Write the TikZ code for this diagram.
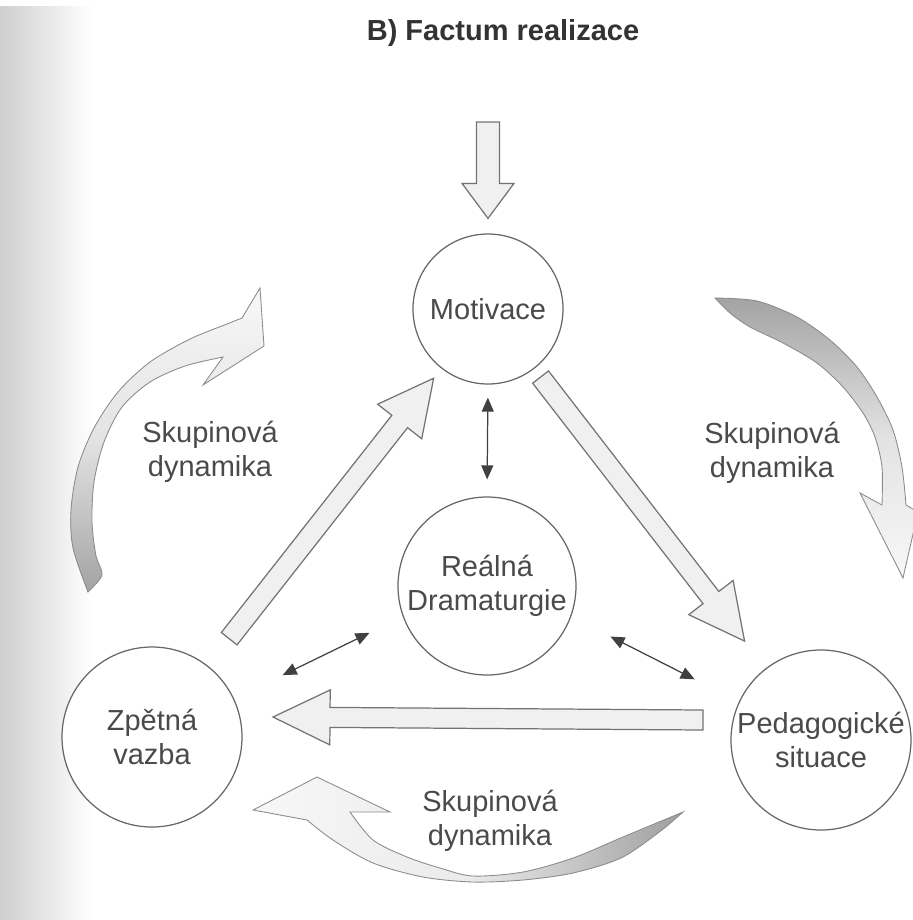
\documentclass[tikz,border=0pt]{standalone}
\usepackage{fontspec}
\setmainfont{Liberation Sans}
\usetikzlibrary{calc,arrows.meta}
\definecolor{inkgray}{HTML}{4A4A4A}

\newcommand{\bigarrow}[5]{%
  \draw[blockarr] let \p1=($(#2)-(#1)$), \n1={veclen(\x1,\y1)}, \n2={atan2(\y1,\x1)} in
    [shift={(#1)}, rotate=\n2] (0pt,-#3) -- (\n1-#5,-#3) -- (\n1-#5,-#4) -- (\n1,0pt)
    -- (\n1-#5,#4) -- (\n1-#5,#3) -- (0pt,#3) -- cycle;}

\begin{document}
\begin{tikzpicture}[x=0.2mm,y=-0.2mm,
    stage/.style={circle,draw=black!60,line width=0.7pt,fill=white,minimum size=#1,inner sep=0pt,
      align=center,text=inkgray,font=\fontsize{16.5}{19}\selectfont},
    lbl/.style={align=center,text=inkgray,font=\fontsize{16.5}{19}\selectfont},
    blockarr/.style={draw=black!55,fill=gray!12,line width=0.7pt,line join=miter},
    ribbon/.style={draw=black!45,line width=0.5pt},
    dblarr/.style={draw=black!75,line width=0.7pt,{Triangle[length=2.8mm,width=2.4mm]}-{Triangle[length=2.8mm,width=2.4mm]}}]
  \useasboundingbox (0,0) rectangle (913,920);
  \shade[left color=gray!38,right color=white] (0,6) rectangle (92,920);

  \node[lbl,font=\bfseries\fontsize{16.5}{19}\selectfont,text=black!80] (title) at (503,33) {B) Factum realizace};

  \node[stage=30mm] (motiv) at (488,309) {Motivace};
  \node[stage=35.6mm] (real) at (487,586) {Reálná\\Dramaturgie};
  \node[stage=36mm] (zpet) at (152,737) {Zpětná\\vazba};
  \node[stage=36mm] (pedag) at (821,740) {Pedagogické\\situace};

  \node[lbl] (dynL) at (210,452) {Skupinová\\dynamika};
  \node[lbl] (dynR) at (772,453) {Skupinová\\dynamika};
  \node[lbl] (dynB) at (490,821) {Skupinová\\dynamika};

  \shadedraw[ribbon,top color=gray!6,bottom color=gray!72,middle color=gray!22]
    plot[smooth] coordinates {(88,592) (73,548) (71,510) (78,467) (94,428) (118,392) (150,362) (190,339) (227,324) (242,318)}
    -- (260,288) -- (264,346) -- (203,385) -- (223,357)
    -- plot[smooth] coordinates {(223,357) (185,366) (150,382) (122,407) (104,442) (94,482) (92,522) (96,556) (102,575) (88,592)} -- cycle;
  \shadedraw[ribbon,top color=gray!72,bottom color=gray!6,middle color=gray!22]
    plot[smooth] coordinates {(715,298) (757,301) (797,317) (830,340) (857,367) (877,397) (893,430) (902,467) (906,505)}
    -- (918,512) -- (903,578) -- (860,493) -- (882,505)
    -- plot[smooth] coordinates {(882,505) (882,467) (875,437) (863,413) (843,387) (817,363) (783,343) (750,327) (730,313) (715,298)} -- cycle;
  \shadedraw[ribbon,left color=gray!6,right color=gray!75,middle color=gray!16]
    (253,810) -- (317,777) -- (390,812) -- (350,812)
    -- plot[smooth] coordinates {(350,812) (373,840) (407,857) (440,868) (473,876) (523,872) (573,858) (623,837) (683,812)}
    -- (667,826)
    -- plot[smooth] coordinates {(667,826) (623,857) (573,873) (523,880) (473,882) (423,877) (373,863) (333,840) (307,820)} -- cycle;

  \coordinate (top-a) at (488,122);
  \coordinate (top-b) at ([yshift=3mm]motiv.north);
  \coordinate (zm-a) at ($(zpet)!25mm!(motiv)$);
  \coordinate (zm-b) at ($(motiv)!17.6mm!(zpet)$);
  \coordinate (mp-a) at ($(motiv)!17.2mm!(pedag)$);
  \coordinate (mp-b) at ($(pedag)!25mm!(motiv)$);
  \coordinate (pz-a) at ([shift={(-118,-20)}]pedag.center);
  \coordinate (pz-b) at ([shift={(121,-20)}]zpet.center);

  \bigarrow{top-a}{top-b}{2.3mm}{5.2mm}{7mm}
  \bigarrow{zm-a}{zm-b}{2mm}{5.6mm}{11mm}
  \bigarrow{mp-a}{mp-b}{2mm}{5.6mm}{11mm}
  \bigarrow{pz-a}{pz-b}{2mm}{5.5mm}{11.4mm}

  \draw[dblarr,shorten <=2.6mm,shorten >=3.4mm] (motiv.south) -- (real.north);
  \draw[dblarr,shorten <=10.8mm,shorten >=7.4mm] (zpet.25) -- (real.200);
  \draw[dblarr,shorten <=8.8mm,shorten >=9.9mm] (real.340) -- (pedag.155);
\end{tikzpicture}
\end{document}
